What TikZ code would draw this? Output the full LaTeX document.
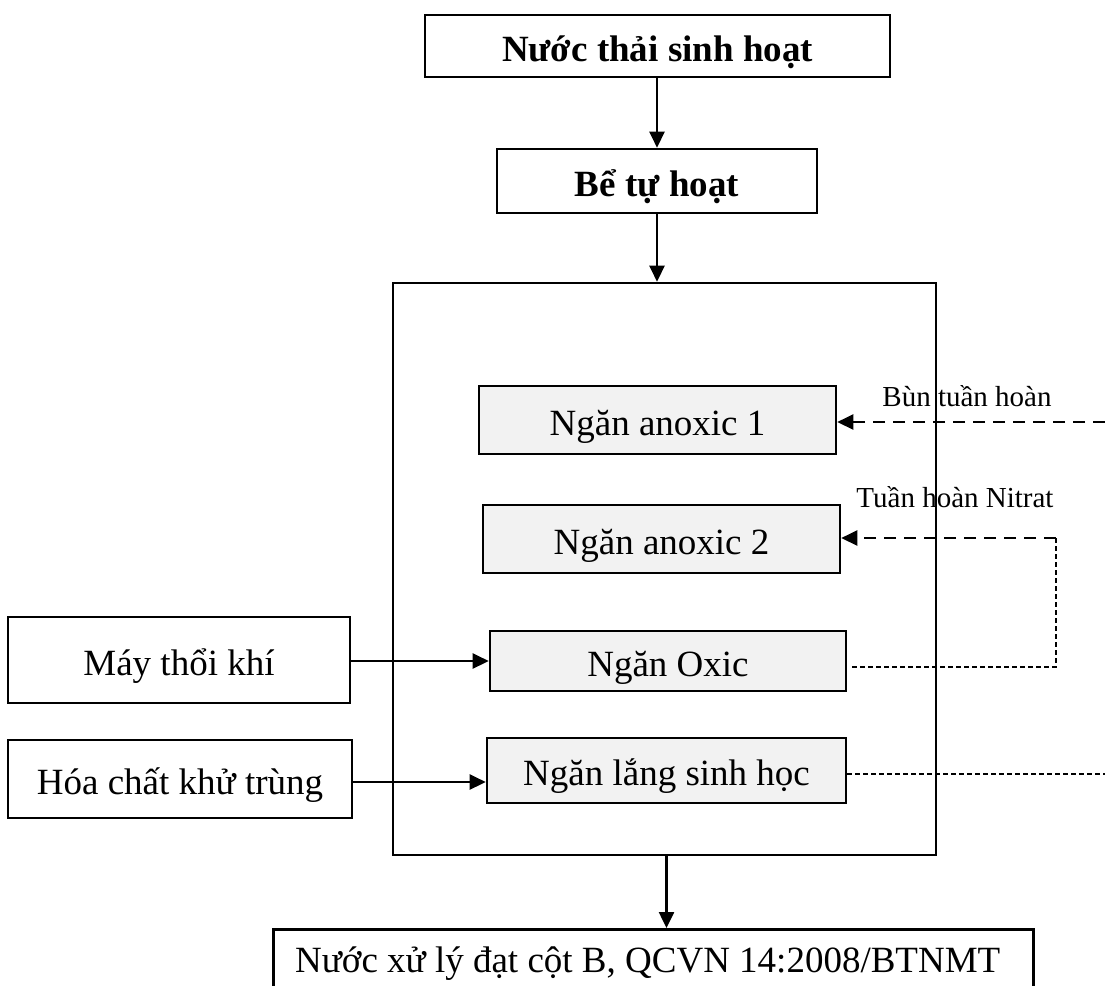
\documentclass[tikz,border=0pt]{standalone}
\usepackage{fontspec}
\setmainfont{Liberation Serif}
\usetikzlibrary{arrows.meta}
\begin{document}
\begin{tikzpicture}[x=1pt,y=-1pt,
  boxtext/.style={font=\fontsize{37}{40}\selectfont,text height=32pt,text depth=2pt},
  plainbox/.style={draw,line width=2.6pt,inner sep=0pt,boxtext},
  graybox/.style={plainbox,fill=gray!10},
  tip/.style={-{Triangle[length=16pt,width=15pt]}},
  arr/.style={line width=2.5pt,tip},
  thickdash/.style={line width=2.6pt,dash pattern=on 12pt off 8pt},
  thindash/.style={line width=1.4pt,dash pattern=on 4.5pt off 3.5pt},
  lbl/.style={font=\fontsize{29}{32}\selectfont,inner sep=0pt}]
\useasboundingbox (0,0) rectangle (1105,985);
% top boxes
\node[plainbox,minimum width=465pt,minimum height=62pt,font=\fontsize{37}{40}\selectfont\bfseries] (src) at (657.5,46) {Nước thải sinh hoạt};
\node[plainbox,minimum width=320pt,minimum height=64pt,font=\fontsize{37}{40}\selectfont\bfseries] (tank) at (657,181) {Bể tự hoạt};
% big container
\node[draw,line width=2.6pt,minimum width=543pt,minimum height=572pt,inner sep=0pt] (big) at (664.5,569) {};
% inner compartments
\node[graybox,minimum width=357pt,minimum height=68pt] (an1) at (657.5,420) {Ngăn anoxic 1};
\node[graybox,minimum width=357pt,minimum height=68pt] (an2) at (661.5,539) {Ngăn anoxic 2};
\node[graybox,minimum width=356pt,minimum height=60pt] (oxic) at (668,661) {Ngăn Oxic};
\node[graybox,minimum width=359pt,minimum height=65pt] (lang) at (666.5,770.5) {Ngăn lắng sinh học};
% left inputs
\node[plainbox,minimum width=342pt,minimum height=86pt] (blower) at (179,660) {Máy thổi khí};
\node[plainbox,minimum width=344pt,minimum height=78pt] (chem) at (180,779) {Hóa chất khử trùng};
% output
\node[plainbox,minimum width=760pt,minimum height=90pt,anchor=north west] (out) at (272,928) {};
\node[font=\fontsize{37}{40}\selectfont,anchor=base west,inner sep=0pt] (outtext) at (295,972) {Nước xử lý đạt cột B, QCVN 14:2008/BTNMT};
% main flow
\draw[arr] (src.south -| tank.north) -- (tank.north);
\draw[arr] (tank.south) -- (tank.south |- big.north);
\draw[arr] ([xshift=2pt]big.south) -- ([xshift=2pt]big.south |- out.north);
\draw[arr] (blower.east |- oxic.west) -- (oxic.west);
\draw[arr] (chem.east |- 0,782) -- (lang.west |- 0,782);
% recirculation
\coordinate (rin1) at (1105,422);
\coordinate (rin2) at (1105,774);
\coordinate (cornerA) at (1056,538);
\coordinate (cornerB) at (1056,667);
\draw[thickdash,tip] (rin1) -- (an1.east |- rin1);
\draw[thickdash,tip] (cornerA) -- (an2.east |- cornerA);
\draw[thindash] ([xshift=5pt]oxic.east |- cornerB) -- (cornerB) -- (cornerA);
\draw[thindash] (lang.east |- rin2) -- (rin2);
\node[lbl,anchor=base] (l1) at (967,406) {Bùn tuần hoàn};
\node[lbl,anchor=base] (l2) at (955,507) {Tuần hoàn Nitrat};
\end{tikzpicture}
\end{document}
